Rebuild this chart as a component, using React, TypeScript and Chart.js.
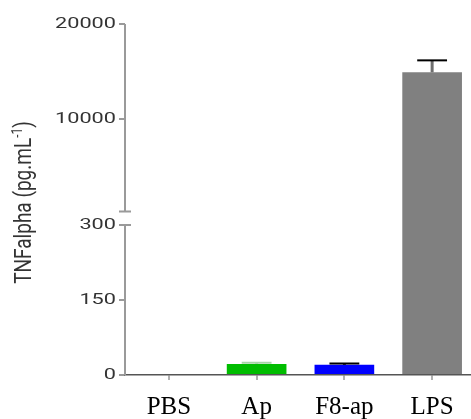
import React, { useEffect, useRef } from 'react';
import { Chart, registerables } from 'chart.js';

Chart.register(...registerables);

// ---- data ----
const CATEGORIES = ['PBS', 'Ap', 'F8-ap', 'LPS'];
const MEANS = [0, 22, 20.5, 14920];
const ERRORS = [0, 2.5, 2.5, 1260];
const BAR_COLORS = ['#000000', '#00bd00', '#0000ff', '#808080'];
const CAP_COLORS = ['#000000', '#a8d4a8', '#000000', '#000000'];
const STEM_COLORS = ['#000000', '#a8d4a8', '#000000', '#6e6e6e'];
const LOWER_TICKS = [0, 150, 300];
const UPPER_TICKS = [10000, 20000];
const LOWER_TICK_LABELS = ['0', '150', '300'];
const UPPER_TICK_LABELS = ['10000', '20000'];
const LOWER_MAX = 300;
const UPPER_MAX = 20000;
const UPPER_MIN = -1120; // the upper segment reaches down under the break gap
const Y_TITLE = 'TNFalpha (pg.mL';
const Y_TITLE_SUP = '-1';
const Y_TITLE_END = ')';

const AXIS_GRAY = '#9a9a9a';
const TEXT_GRAY = '#333333';

const lowValues = MEANS.map((v) => Math.min(v, LOWER_MAX));
const highValues = MEANS.map((v) => (v > LOWER_MAX ? v : null));

const axisPlugin = {
  id: 'brokenAxis',
  afterDraw(chart: any) {
    const ctx = chart.ctx as CanvasRenderingContext2D;
    const yLow = chart.scales.y;
    const yHigh = chart.scales.yTop;
    const x = chart.chartArea.left;
    ctx.save();
    ctx.strokeStyle = AXIS_GRAY;
    ctx.lineWidth = 2;
    const uTop = yHigh.getPixelForValue(UPPER_MAX);
    const uBot = yHigh.getPixelForValue(LOWER_MAX);
    ctx.beginPath();
    ctx.moveTo(x, uTop);
    ctx.lineTo(x, uBot);
    ctx.moveTo(x - 6, uBot);
    ctx.lineTo(x + 6, uBot);
    const lTop = yLow.getPixelForValue(LOWER_MAX);
    const lBot = yLow.getPixelForValue(0);
    ctx.moveTo(x, lTop);
    ctx.lineTo(x, lBot);
    ctx.moveTo(x - 6, lTop);
    ctx.lineTo(x + 6, lTop);
    ctx.stroke();

    ctx.fillStyle = TEXT_GRAY;
    ctx.font = '15.5px Roboto';
    ctx.textAlign = 'right';
    ctx.textBaseline = 'middle';
    const drawLabel = (label: string, py: number) => {
      ctx.save();
      ctx.translate(x - 9, py);
      ctx.scale(1.4, 1);
      ctx.fillText(label, 0, 0);
      ctx.restore();
    };
    UPPER_TICKS.forEach((v, i) => drawLabel(UPPER_TICK_LABELS[i], yHigh.getPixelForValue(v)));
    LOWER_TICKS.forEach((v, i) => drawLabel(LOWER_TICK_LABELS[i], yLow.getPixelForValue(v)));

    const mainFont = '19px Roboto';
    const supFont = '12px Roboto';
    ctx.font = mainFont;
    const w1 = ctx.measureText(Y_TITLE).width;
    const w3 = ctx.measureText(Y_TITLE_END).width;
    ctx.font = supFont;
    const w2 = ctx.measureText(Y_TITLE_SUP).width;
    const total = w1 + w2 + w3;
    const cy = (yHigh.getPixelForValue(UPPER_MAX) + yLow.getPixelForValue(0)) / 2 + 3;
    ctx.save();
    ctx.translate(31, cy);
    ctx.scale(1.25, 1);
    ctx.rotate(-Math.PI / 2);
    ctx.textAlign = 'left';
    ctx.textBaseline = 'alphabetic';
    let px = -total / 2;
    ctx.font = mainFont;
    ctx.fillText(Y_TITLE, px, 0);
    px += w1;
    ctx.font = supFont;
    ctx.fillText(Y_TITLE_SUP, px, -7);
    px += w2;
    ctx.font = mainFont;
    ctx.fillText(Y_TITLE_END, px, 0);
    ctx.restore();
    ctx.restore();
  },
};

const errorBarPlugin = {
  id: 'errorBars',
  afterDatasetsDraw(chart: any) {
    const ctx = chart.ctx as CanvasRenderingContext2D;
    const xScale = chart.scales.x;
    const yLow = chart.scales.y;
    const yHigh = chart.scales.yTop;
    const meta = chart.getDatasetMeta(0);
    ctx.save();
    MEANS.forEach((m, i) => {
      const e = ERRORS[i];
      if (!e) return;
      const scale = m > LOWER_MAX ? yHigh : yLow;
      const cx = xScale.getPixelForValue(i);
      const y0 = scale.getPixelForValue(m);
      const y1 = scale.getPixelForValue(m + e);
      const half = meta.data[i].width / 4;
      ctx.strokeStyle = STEM_COLORS[i];
      ctx.lineWidth = 3;
      ctx.beginPath();
      ctx.moveTo(cx, y0);
      ctx.lineTo(cx, y1);
      ctx.stroke();
      ctx.strokeStyle = CAP_COLORS[i];
      ctx.lineWidth = 2;
      ctx.beginPath();
      ctx.moveTo(cx - half, y1);
      ctx.lineTo(cx + half, y1);
      ctx.stroke();
    });
    ctx.restore();
  },
};

export default function App() {
  const ref = useRef<HTMLCanvasElement>(null);
  useEffect(() => {
    const chart = new Chart(ref.current as HTMLCanvasElement, {
      type: 'bar',
      data: {
        labels: CATEGORIES,
        datasets: [
          {
            label: 'lower',
            data: lowValues,
            yAxisID: 'y',
            backgroundColor: BAR_COLORS,
            grouped: false,
            barPercentage: 0.68,
            categoryPercentage: 1,
          } as any,
          {
            label: 'upper',
            data: highValues,
            yAxisID: 'yTop',
            backgroundColor: BAR_COLORS,
            grouped: false,
            base: UPPER_MIN,
            barPercentage: 0.68,
            categoryPercentage: 1,
          } as any,
        ],
      },
      options: {
        responsive: false,
        animation: false,
        layout: { padding: { left: 119, right: 4, top: 24, bottom: 0 } },
        plugins: { legend: { display: false }, tooltip: { enabled: false } },
        scales: {
          x: {
            type: 'category',
            offset: true,
            afterFit: (s: any) => {
              s.height = 44;
            },
            grid: {
              display: true,
              offset: false,
              drawOnChartArea: false,
              drawTicks: true,
              tickLength: 5,
              color: '#b0b0b0',
              lineWidth: 2,
            },
            border: { display: true, color: '#555555', width: 1.5 },
            ticks: {
              color: '#000000',
              padding: 15,
              font: { family: 'Liberation Serif', size: 25, lineHeight: 1 },
              maxRotation: 0,
              autoSkip: false,
            },
          },
          y: {
            type: 'linear',
            position: 'left',
            stack: 'yaxis',
            stackWeight: 150,
            min: 0,
            max: LOWER_MAX,
            afterBuildTicks: (scale: any) => {
              scale.ticks = LOWER_TICKS.map((v) => ({ value: v }));
            },
            grid: {
              display: true,
              drawOnChartArea: false,
              drawTicks: true,
              tickLength: 6,
              color: AXIS_GRAY,
              lineWidth: 2,
            },
            border: { display: false },
            ticks: { display: false },
          },
          yTop: {
            type: 'linear',
            position: 'left',
            stack: 'yaxis',
            stackWeight: 201,
            min: UPPER_MIN,
            max: UPPER_MAX,
            afterBuildTicks: (scale: any) => {
              scale.ticks = UPPER_TICKS.map((v) => ({ value: v }));
            },
            grid: {
              display: true,
              drawOnChartArea: false,
              drawTicks: true,
              tickLength: 6,
              color: AXIS_GRAY,
              lineWidth: 2,
            },
            border: { display: false },
            ticks: { display: false },
          },
        } as any,
      },
      plugins: [errorBarPlugin, axisPlugin],
    });
    return () => chart.destroy();
  }, []);
  return (
    <div
      style={{
        position: 'fixed',
        left: 0,
        top: 0,
        width: 471,
        height: 419,
        overflow: 'hidden',
        background: '#ffffff',
      }}
    >
      <canvas ref={ref} width={480} height={419} style={{ display: 'block', width: 480, height: 419 }} />
    </div>
  );
}
